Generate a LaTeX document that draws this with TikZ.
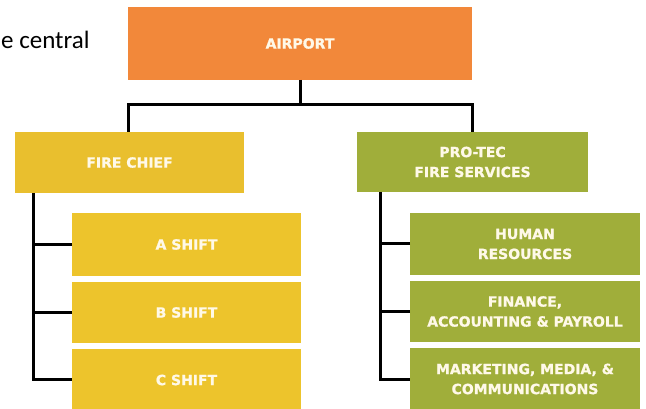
\documentclass[tikz,border=0pt]{standalone}
\usepackage{fontspec}
\setmainfont{DejaVu Sans}
\newfontfamily\bodyfont{Carlito}
\newfontfamily\labelfont{DejaVu Sans Bold}[FakeBold=1.2]
\definecolor{airorange}{HTML}{F2883A}
\definecolor{chiefgold}{HTML}{E9BF2E}
\definecolor{shiftgold}{HTML}{EDC42C}
\definecolor{tecgreen}{HTML}{A0AE3A}
\definecolor{labelcream}{HTML}{FFF9E8}
\begin{document}
\begin{tikzpicture}[x=1pt,y=-1pt,
  unit/.style={rectangle, inner sep=0pt, outer sep=0pt, text=labelcream,
    align=center, font=\labelfont\fontsize{14}{20}\selectfont},
  link/.style={draw=black, line width=3pt}]
\useasboundingbox (0,0) rectangle (646,409);

% top text fragment
\node[anchor=base west, inner sep=0pt, font=\bodyfont\fontsize{25}{29}\selectfont] (frag) at (1,49) {e central};

% units
\node[unit, fill=airorange, minimum width=344pt, minimum height=73pt] (air) at (300,43.5) {AIRPORT};
\node[unit, fill=chiefgold, minimum width=229pt, minimum height=61pt] (chief) at (129.5,162.5) {FIRE CHIEF};
\node[unit, fill=tecgreen, minimum width=231pt, minimum height=60pt] (tec) at (472.5,162) {PRO-TEC\\FIRE SERVICES};

\node[unit, fill=shiftgold, minimum width=229pt, minimum height=63pt] (ashift) at (186.5,244.5) {A SHIFT};
\node[unit, fill=shiftgold, minimum width=229pt, minimum height=61pt] (bshift) at (186.5,312.5) {B SHIFT};
\node[unit, fill=shiftgold, minimum width=229pt, minimum height=62pt] (cshift) at (186.5,380) {C SHIFT};

\node[unit, fill=tecgreen, minimum width=230pt, minimum height=62pt] (hr) at (525,244) {HUMAN\\RESOURCES};
\node[unit, fill=tecgreen, minimum width=230pt, minimum height=61pt] (fin) at (525,311.5) {FINANCE,\\ACCOUNTING \& PAYROLL};
\node[unit, fill=tecgreen, minimum width=230pt, minimum height=62pt] (mkt) at (525,379) {MARKETING, MEDIA, \&\\COMMUNICATIONS};

% connectors
\coordinate (split) at ([yshift=-25pt]air.south);
\draw[link] (air.south) -- (split);
\draw[link] (split) -| ([xshift=-1.5pt]chief.north);
\draw[link] (split) -| (tec.north);

\coordinate (lspine) at ([xshift=18pt]chief.south west);
\draw[link] (lspine) |- ([yshift=0.5pt]cshift.west);
\draw[link] (ashift.west) -- (ashift.west -| lspine);
\draw[link] (bshift.west) -- (bshift.west -| lspine);

\coordinate (rspine) at ([xshift=23pt]tec.south west);
\draw[link] (rspine) |- (mkt.west);
\draw[link] (hr.west) -- (hr.west -| rspine);
\draw[link] (fin.west) -- (fin.west -| rspine);
\end{tikzpicture}
\end{document}
